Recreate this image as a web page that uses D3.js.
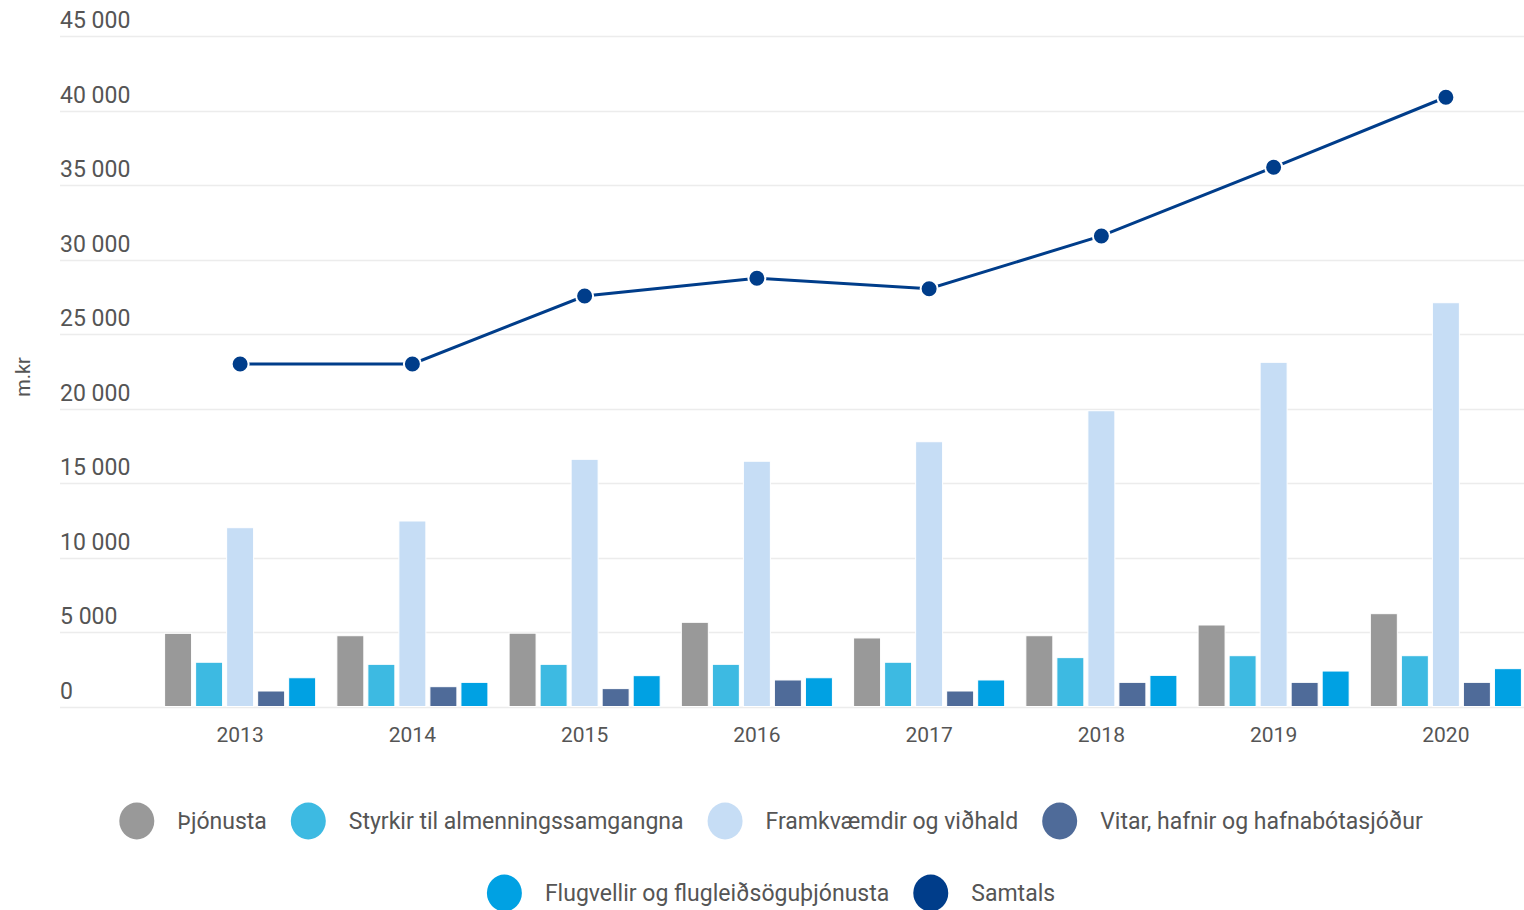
<!DOCTYPE html>
<html lang="is">
<head>
  <meta charset="utf-8">
  <script src="https://d3js.org/d3.v7.min.js"></script>
  <style>
    body { margin: 0; background: #fff; }
    text { font-family: Roboto, "Noto Sans", sans-serif; fill: #555; }
  </style>
</head>
<body>
<script>
// years on the x axis
const years = ["2013", "2014", "2015", "2016", "2017", "2018", "2019", "2020"];
// bar series (m.kr)
const thjonusta   = [4910, 4750, 4920, 5650, 4600, 4750, 5470, 6230];
const styrkir     = [2970, 2830, 2830, 2830, 2970, 3280, 3410, 3410];
const framkvaemdir = [12000, 12450, 16590, 16460, 17770, 19850, 23100, 27100];
const vitar       = [1040, 1330, 1200, 1780, 1040, 1620, 1620, 1620];
const flugvellir  = [1930, 1620, 2070, 1930, 1780, 2090, 2380, 2540];
// line series
const samtals     = [22990, 22990, 27550, 28740, 28040, 31580, 36190, 40890];
const yTicks = [0, 5000, 10000, 15000, 20000, 25000, 30000, 35000, 40000, 45000];

const seriesNames = ["Þjónusta", "Styrkir til almenningssamgangna", "Framkvæmdir og viðhald",
                     "Vitar, hafnir og hafnabótasjóður", "Flugvellir og flugleiðsöguþjónusta"];
const seriesVals = [thjonusta, styrkir, framkvaemdir, vitar, flugvellir];
const colors = ["#999999", "#3dbae2", "#c6ddf5", "#4f6b99", "#00a1e3"];
const lineColor = "#003d8a";

const W = 1524, H = 910;
const svg = d3.select("body").append("svg")
  .attr("width", W).attr("height", H);

const y = d3.scaleLinear().domain([0, 45000]).range([706.5, 36]);
const x0 = d3.scaleBand().domain(years).range([154, 1532])
  .paddingInner(0.123).paddingOuter(0.0615);
const x1 = d3.scaleBand().domain(d3.range(5)).range([0, x0.bandwidth()])
  .paddingInner(0.13);

// gridlines + labels
const fmt = d => d3.format(",")(d).replace(/,/g, " ");
svg.append("g").selectAll("line").data(yTicks).join("line")
  .attr("x1", 60).attr("x2", W)
  .attr("y1", d => Math.round(y(d)) + 0.5).attr("y2", d => Math.round(y(d)) + 0.5)
  .attr("stroke", "#ececec").attr("stroke-width", 1.5);
svg.append("g").selectAll("text").data(yTicks).join("text")
  .attr("x", 60).attr("y", d => y(d) - 8)
  .style("font-size", "23px")
  .text(fmt);

// axis title
svg.append("text")
  .attr("transform", "translate(30,377) rotate(-90)")
  .attr("text-anchor", "middle")
  .style("font-size", "20px")
  .text("m.kr");

// x labels
svg.append("g").selectAll("text").data(years).join("text")
  .attr("x", d => x0(d) + x0.bandwidth() / 2)
  .attr("y", 742)
  .attr("text-anchor", "middle")
  .style("font-size", "21px")
  .text(d => d);

// bars
const groups = svg.append("g").selectAll("g").data(years).join("g")
  .attr("transform", d => "translate(" + x0(d) + ",0)");
groups.selectAll("rect")
  .data((d, i) => seriesVals.map((s, k) => ({k: k, v: s[i]})))
  .join("rect")
  .attr("x", d => x1(d.k))
  .attr("y", d => y(d.v))
  .attr("width", x1.bandwidth())
  .attr("height", d => y(0) - y(d.v))
  .attr("fill", d => colors[d.k])
  .attr("stroke", "#fff").attr("stroke-width", 1);

// total line
const cx = (d, i) => x0(years[i]) + x0.bandwidth() / 2;
const line = d3.line().x((d, i) => cx(d, i)).y(d => y(d));
svg.append("path").datum(samtals)
  .attr("d", line)
  .attr("fill", "none")
  .attr("stroke", lineColor).attr("stroke-width", 3);
svg.append("g").selectAll("circle").data(samtals).join("circle")
  .attr("cx", cx).attr("cy", d => y(d))
  .attr("r", 8.5)
  .attr("fill", lineColor)
  .attr("stroke", "#fff").attr("stroke-width", 2);

// legend
const legendRows = [
  [0, 1, 2, 3].map(k => ({name: seriesNames[k], color: colors[k]})),
  [{name: seriesNames[4], color: colors[4]}, {name: "Samtals", color: lineColor}]
];
const rowY = [821, 893];
legendRows.forEach((row, r) => {
  const g = svg.append("g");
  let xpos = 0;
  row.forEach((item, i) => {
    const it = g.append("g").attr("transform", "translate(" + xpos + ",0)");
    it.append("ellipse").attr("cx", 17.5).attr("cy", rowY[r])
      .attr("rx", 17.5).attr("ry", 18.5).attr("fill", item.color);
    const t = it.append("text").attr("x", 58).attr("y", rowY[r] + 8)
      .style("font-size", "23px").text(item.name);
    xpos += 58 + t.node().getComputedTextLength() + 24;
  });
  const total = xpos - 24;
  g.attr("transform", "translate(" + (771 - total / 2) + ",0)");
});
</script>
</body>
</html>
